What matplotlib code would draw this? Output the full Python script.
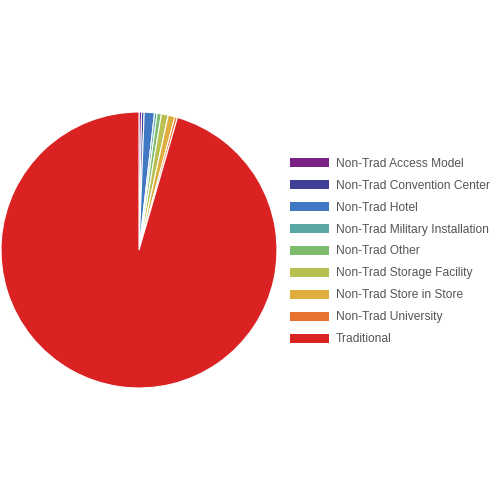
import matplotlib.pyplot as plt
from matplotlib.patches import Patch

plt.rcParams['font.family'] = ['Liberation Sans', 'DejaVu Sans']

labels = ['Non-Trad Access Model', 'Non-Trad Convention Center', 'Non-Trad Hotel',
          'Non-Trad Military Installation', 'Non-Trad Other', 'Non-Trad Storage Facility',
          'Non-Trad Store in Store', 'Non-Trad University', 'Traditional']
shares = [0.3, 0.3, 1.2, 0.3, 0.5, 0.8, 0.8, 0.3, 95.5]
colors = ['#7B2183', '#3F3F96', '#4178C4', '#5AA8A4', '#7CBC6C', '#B8C050',
          '#DDAE3C', '#E8732F', '#DA2223']

fig = plt.figure(figsize=(5, 5), dpi=100)
ax = fig.add_axes([1 / 500, 112 / 500, 276 / 500, 276 / 500])
ax.pie(shares, colors=colors, startangle=90, counterclock=False, radius=1,
       wedgeprops=dict(edgecolor='white', linewidth=0.8))
ax.set_xlim(-1, 1)
ax.set_ylim(-1, 1)
ax.set_aspect('equal')
ax.axis('off')

handles = [Patch(facecolor=c, edgecolor='none') for c in colors]
fig.legend(handles, labels, loc='center left', bbox_to_anchor=(0.58, 0.497),
           frameon=False, fontsize=8.64, handlelength=3.25, handleheight=0.75,
           handletextpad=0.55, labelspacing=0.83, borderpad=0, borderaxespad=0,
           labelcolor='#555555')

fig.savefig('out.png', dpi=100)
